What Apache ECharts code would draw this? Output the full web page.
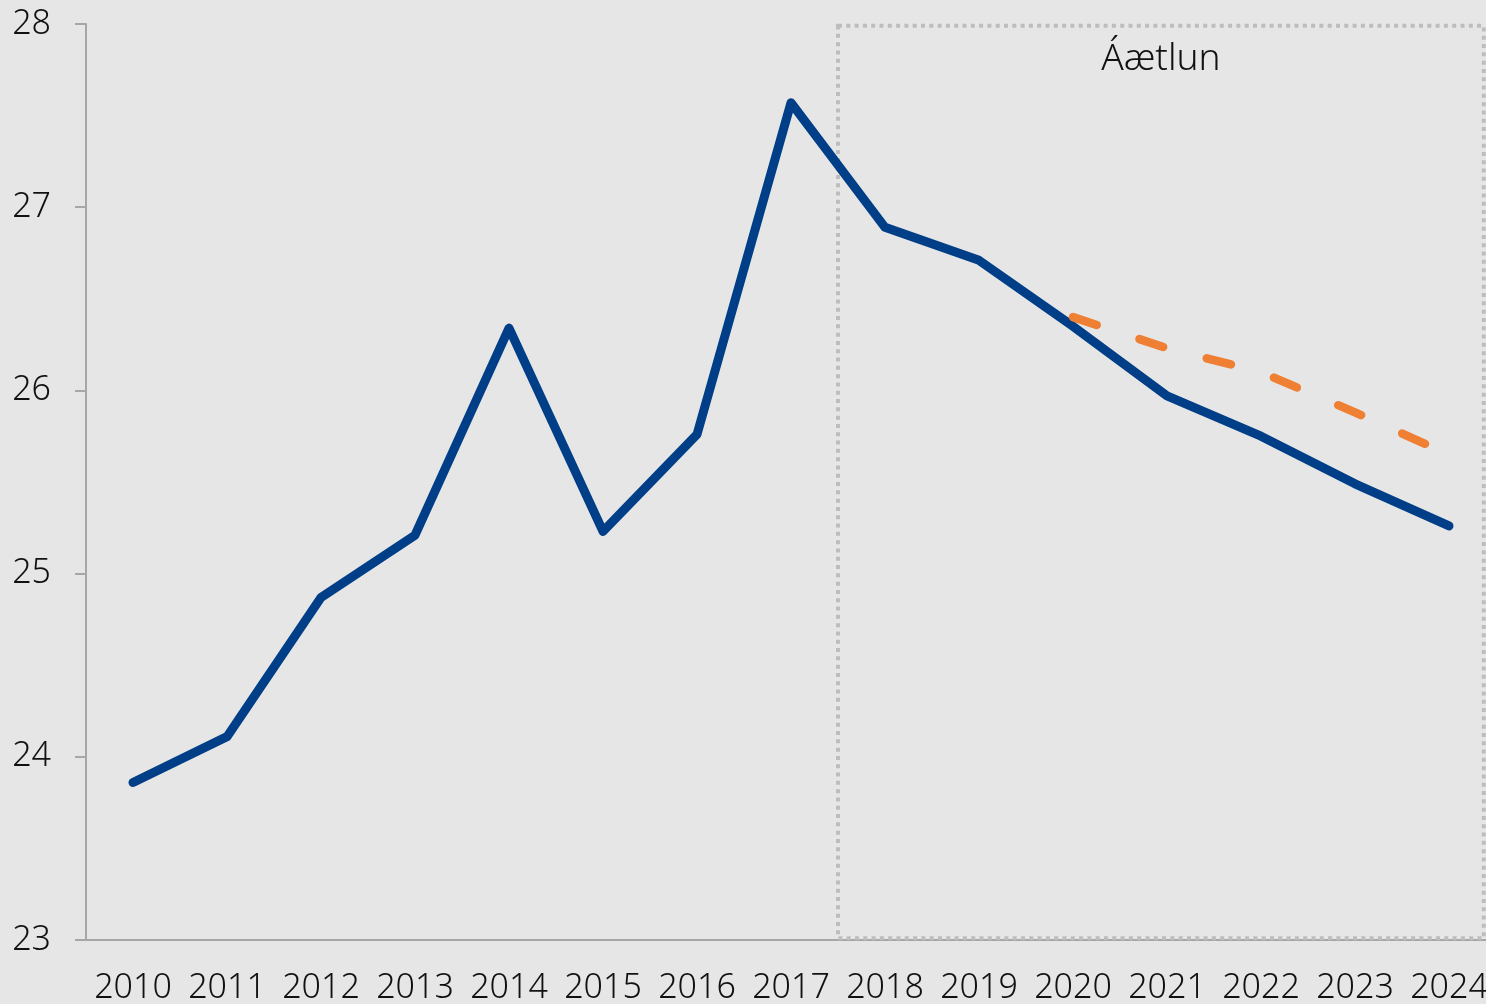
<!DOCTYPE html>
<html>
<head>
<meta charset="utf-8">
<script src="https://cdn.jsdelivr.net/npm/echarts@6/dist/echarts.min.js"></script>
<style>
  html, body { margin: 0; padding: 0; background: #e6e6e6; }
  #container { width: 1486px; height: 1004px; }
</style>
</head>
<body>
<div id="container"></div>
<script>
var years = ['2010', '2011', '2012', '2013', '2014', '2015', '2016', '2017',
             '2018', '2019', '2020', '2021', '2022', '2023', '2024'];
var actual = [23.86, 24.11, 24.87, 25.21, 26.34, 25.23, 25.76, 27.57,
              26.89, 26.71, 26.35, 25.97, 25.75, 25.49, 25.26];
var alternative = [null, null, null, null, null, null, null, null,
                   null, null, 26.40, 26.23, 26.10, 25.88, 25.65];
var planLabel = 'Áætlun';
var planRange = [8, 14.87];   // in category units on the helper axis
var yTicks = { min: 23, max: 28, step: 1 };

var dom = document.getElementById('container');
var myChart = echarts.init(dom);
var font = '"Noto Sans", sans-serif';

var option = {
    backgroundColor: '#e6e6e6',
    animation: false,
    grid: {
        left: 86,
        top: 24,
        width: 1410,
        height: 916,
        outerBoundsMode: 'none'
    },
    xAxis: [{
        type: 'category',
        data: years,
        boundaryGap: true,
        axisLine: { lineStyle: { color: '#a6a6a6', width: 2 } },
        axisTick: { length: 11, lineStyle: { color: '#a6a6a6', width: 2 } },
        axisLabel: {
            interval: 0,
            margin: 31,
            color: '#111',
            fontFamily: font,
            fontWeight: 300,
            fontSize: 34
        },
        splitLine: { show: false }
    }, {
        type: 'value',
        min: 0,
        max: 15,
        show: false
    }],
    yAxis: {
        type: 'value',
        min: yTicks.min,
        max: yTicks.max,
        interval: yTicks.step,
        axisLine: { show: true, lineStyle: { color: '#a6a6a6', width: 2 } },
        axisTick: { show: true, length: 11, lineStyle: { color: '#a6a6a6', width: 2 } },
        axisLabel: {
            margin: 35,
            color: '#111',
            fontFamily: font,
            fontWeight: 300,
            fontSize: 34
        },
        splitLine: { show: false }
    },
    series: [{
        type: 'line',
        data: actual,
        symbol: 'none',
        z: 2,
        lineStyle: { color: '#003e87', width: 9, cap: 'round', join: 'round' }
    }, {
        type: 'line',
        data: alternative,
        symbol: 'none',
        z: 3,
        lineStyle: { color: '#ef7f32', width: 8.5, type: [25, 45], cap: 'round' }
    }, {
        type: 'line',
        xAxisIndex: 1,
        data: [],
        z: 5,
        markArea: {
            silent: true,
            itemStyle: {
                color: 'rgba(0,0,0,0)',
                borderColor: '#bdbdbd',
                borderWidth: 4,
                borderType: [4, 4.3]
            },
            label: {
                show: true,
                position: 'insideTop',
                distance: 17,
                color: '#111',
                fontFamily: font,
                fontWeight: 300,
                fontSize: 37
            },
            data: [[
                { name: planLabel, xAxis: planRange[0], yAxis: yTicks.max - 0.01 },
                { xAxis: planRange[1], yAxis: yTicks.min + 0.01 }
            ]]
        }
    }]
};

myChart.setOption(option);
</script>
</body>
</html>
